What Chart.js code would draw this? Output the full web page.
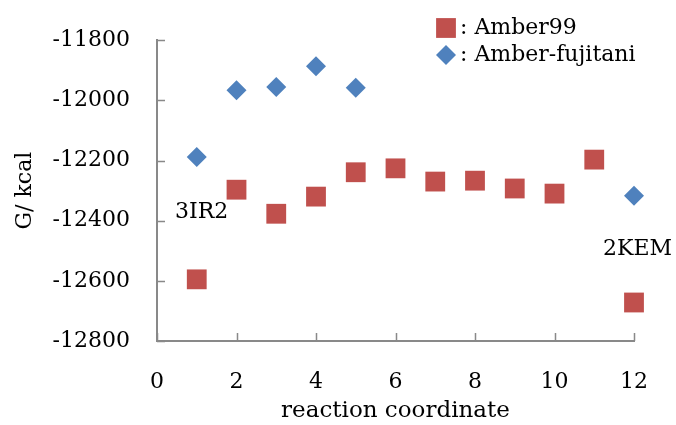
<!DOCTYPE html>
<html>
<head>
<meta charset="utf-8">
<script src="https://cdn.jsdelivr.net/npm/chart.js@4"></script>
<style>
  html, body { margin: 0; padding: 0; background: #fff; }
  canvas { display: block; }
</style>
</head>
<body>
<canvas id="chart" width="676" height="425"></canvas>
<script>
const amber99X = [1, 2, 3, 4, 5, 6, 7, 8, 9, 10, 11, 12]
const amber99Y = [-12595, -12297, -12377, -12320, -12239, -12226, -12270, -12267, -12293, -12310, -12197, -12672]
const fujitaniX = [1, 2, 3, 4, 5, 12]
const fujitaniY = [-12188, -11966, -11956, -11887, -11958, -12317]
const seriesNames = [': Amber99', ': Amber-fujitani']
const xTicks = [0, 2, 4, 6, 8, 10, 12]
const yTicks = [-12800, -12600, -12400, -12200, -12000, -11800]
const notes = [
    { text: '3IR2', x: 175, y: 212 },
    { text: '2KEM', x: 603, y: 249 },
]

const RED = '#C0504D'
const BLUE = '#4F81BD'
const AXIS = '#898989'
const FONT = 'DejaVu Serif'
const SIZE = 22

const toPoints = (xs, ys) => xs.map((x, i) => ({ x: x, y: ys[i] }))

// small tick marks pointing into the plot, like the original
const innerTicks = {
    id: 'innerTicks',
    afterDraw(chart) {
        const { ctx, chartArea, scales } = chart
        ctx.save()
        ctx.strokeStyle = AXIS
        ctx.lineWidth = 1.5
        ctx.beginPath()
        xTicks.forEach(v => {
            const px = Math.round(scales.x.getPixelForValue(v)) + 0.5
            ctx.moveTo(px, chartArea.bottom)
            ctx.lineTo(px, chartArea.bottom - 8)
        })
        yTicks.forEach(v => {
            const py = Math.round(scales.y.getPixelForValue(v)) + 0.5
            ctx.moveTo(chartArea.left, py)
            ctx.lineTo(chartArea.left + 8, py)
        })
        ctx.stroke()
        ctx.restore()
    },
}

const legendAndNotes = {
    id: 'legendAndNotes',
    afterDraw(chart) {
        const { ctx } = chart
        ctx.save()
        ctx.font = SIZE + 'px "' + FONT + '"'
        ctx.textBaseline = 'middle'
        ctx.textAlign = 'left'
        const rows = [28, 55]
        chart.data.datasets.forEach((ds, i) => {
            ctx.fillStyle = ds.backgroundColor
            ctx.strokeStyle = ds.borderColor
            Chart.helpers.drawPoint(ctx, {
                pointStyle: ds.pointStyle,
                radius: ds.pointRadius,
                borderWidth: 0,
                rotation: 0,
            }, 446, rows[i])
            ctx.fillStyle = '#000'
            ctx.fillText(seriesNames[i], 460, rows[i])
        })
        notes.forEach(n => ctx.fillText(n.text, n.x, n.y))
        ctx.restore()
    },
}

new Chart(document.getElementById('chart'), {
    type: 'scatter',
    data: {
        datasets: [
            {
                label: seriesNames[0],
                data: toPoints(amber99X, amber99Y),
                pointStyle: 'rect',
                pointRadius: 14,
                pointHoverRadius: 14,
                backgroundColor: RED,
                borderColor: RED,
                borderWidth: 0,
                clip: false,
            },
            {
                label: seriesNames[1],
                data: toPoints(fujitaniX, fujitaniY),
                pointStyle: 'rectRot',
                pointRadius: 10,
                pointHoverRadius: 10,
                backgroundColor: BLUE,
                borderColor: BLUE,
                borderWidth: 0,
                clip: false,
            },
        ],
    },
    options: {
        responsive: false,
        animation: false,
        layout: { padding: { top: 39, right: 40, left: 0, bottom: 0 } },
        plugins: {
            legend: { display: false },
            tooltip: { enabled: false },
        },
        scales: {
            x: {
                type: 'linear',
                min: 0,
                max: 12,
                afterBuildTicks: scale => { scale.ticks = xTicks.map(v => ({ value: v })) },
                afterFit: scale => { scale.height = 84 },
                grid: { display: false, drawTicks: false },
                border: { display: true, color: AXIS, width: 2 },
                ticks: {
                    padding: 28,
                    color: '#000',
                    font: { family: FONT, size: SIZE },
                    callback: v => String(v),
                },
                title: {
                    display: true,
                    text: 'reaction coordinate',
                    color: '#000',
                    font: { family: FONT, size: 23 },
                    padding: 0,
                },
            },
            y: {
                type: 'linear',
                min: -12800,
                max: -11800,
                afterBuildTicks: scale => { scale.ticks = yTicks.map(v => ({ value: v })) },
                afterFit: scale => { scale.width = 157 },
                grid: { display: false, drawTicks: false },
                border: { display: true, color: AXIS, width: 2 },
                ticks: {
                    padding: 27,
                    color: '#000',
                    font: { family: FONT, size: SIZE },
                    callback: v => String(v),
                },
                title: {
                    display: true,
                    text: 'G/ kcal',
                    color: '#000',
                    font: { family: FONT, size: SIZE },
                    padding: { top: 12, bottom: 0 },
                },
            },
        },
    },
    plugins: [innerTicks, legendAndNotes],
})
</script>
</body>
</html>
